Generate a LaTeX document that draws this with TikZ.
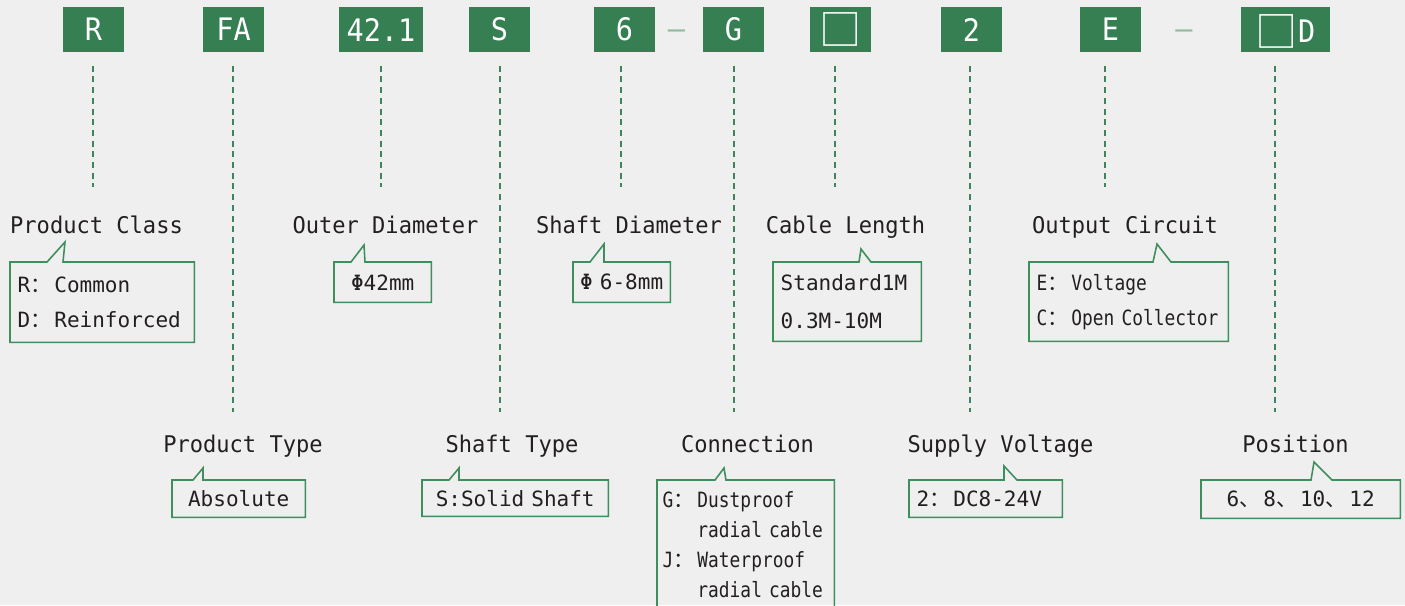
\documentclass[tikz,border=0pt]{standalone}
\usepackage{fontspec}
\usepackage{xcolor}

\newfontfamily\codefont[FakeStretch=0.92]{DejaVu Sans Mono}
\newfontfamily\labelfont[FakeStretch=0.96]{DejaVu Sans Mono}
\newfontfamily\specfont{DejaVu Sans Mono}
\newfontfamily\tightfont[FakeStretch=0.85]{DejaVu Sans Mono}
\newfontfamily\cjk{Noto Sans CJK SC}

\definecolor{codegreen}{HTML}{367F52}
\definecolor{dashgreen}{HTML}{8DBB9D}
\definecolor{leadgreen}{HTML}{3F855B}
\definecolor{taggreen}{HTML}{3E8E5E}
\definecolor{pagegray}{HTML}{EFEFEF}
\definecolor{ink}{HTML}{231F20}

\newcommand{\sqfont}{\fontsize{12pt}{13pt}\cjk}
\newcommand{\fcolon}{{\cjk ：}\kern0.03cm}
\newcommand{\dun}{{\cjk 、}\kern0.03cm}
\newcommand{\tagbox}[5]{%
  \draw[tagline] (#1.north west) -- ([xshift=#2cm]#1.north west) -- ([xshift=#3cm,yshift=#4cm]#1.north west) -- ([xshift=#5cm]#1.north west) -- (#1.north east) -- (#1.south east) -- (#1.south west) -- cycle;}

\tikzset{
  code/.style={fill=codegreen, text=white, inner sep=0pt, minimum width=0.61cm, minimum height=0.45cm, font=\fontsize{8.82pt}{10pt}\codefont},
  joiner/.style={text=dashgreen, inner sep=0pt, anchor=base, font=\fontsize{8.82pt}{10pt}\codefont},
  title/.style={text=ink, inner sep=0pt, anchor=base, font=\fontsize{6.54pt}{8pt}\labelfont},
  spec/.style={text=ink, anchor=north west, inner xsep=0.07cm, inner ysep=0pt, align=left, font=\fontsize{5.98pt}{9.96pt}\specfont},
  leader/.style={draw=leadgreen, line width=0.45pt, dash pattern=on 0.06cm off 0.047cm, shorten <=0.13cm},
  tagline/.style={draw=taggreen, line width=0.45pt},
}

\begin{document}
\begin{tikzpicture}
		\useasboundingbox (0,0) rectangle (14.05,-6.05);
		\clip (0,0) rectangle (14.05,-6.05);
		\fill[pagegray] (0,0) rectangle (14.05,-6.05);

		% model code
		\node[code] (R) at (0.935,-0.295) {R};
		\node[code] (FA) at (2.335,-0.295) {FA};
		\node[code, minimum width=0.84cm] (OD) at (3.81,-0.295) {42.1};
		\node[code] (S) at (4.995,-0.295) {S};
		\node[code] (SD) at (6.245,-0.295) {6};
		\node[joiner] (j1) at (6.765,-0.39) {–};
		\node[code] (G) at (7.335,-0.295) {G};
		\node[code] (CL) at (8.405,-0.295) {\sqfont □};
		\node[code] (V) at (9.715,-0.295) {2};
		\node[code] (E) at (11.105,-0.295) {E};
		\node[joiner] (j2) at (11.84,-0.39) {–};
		\node[code, minimum width=0.89cm, text height=0.25cm, text depth=0cm] (PS) at (12.855,-0.295) {{\sqfont\raisebox{-0.05cm}{□}}D};

		\coordinate (upper) at (0,-1.87);
		\coordinate (lower) at (0,-4.12);
		\coordinate (Rfoot) at ([xshift=-0.005cm]R.south);
		\coordinate (FAfoot) at ([xshift=-0.005cm]FA.south);
		\coordinate (Sfoot) at ([xshift=0.005cm]S.south);
		\coordinate (SDfoot) at ([xshift=-0.035cm]SD.south);
		\coordinate (Gfoot) at ([xshift=0.005cm]G.south);
		\coordinate (CLfoot) at ([xshift=-0.055cm]CL.south);
		\coordinate (Vfoot) at ([xshift=-0.015cm]V.south);
		\coordinate (Efoot) at ([xshift=-0.055cm]E.south);
		\coordinate (PSfoot) at ([xshift=-0.105cm]PS.south);

		\draw[leader] (Rfoot) -- (Rfoot |- upper);
		\draw[leader] (FAfoot) -- (FAfoot |- lower);
		\draw[leader] (OD.south) -- (OD.south |- upper);
		\draw[leader] (Sfoot) -- (Sfoot |- lower);
		\draw[leader] (SDfoot) -- (SDfoot |- upper);
		\draw[leader] (Gfoot) -- (Gfoot |- lower);
		\draw[leader] (CLfoot) -- (CLfoot |- upper);
		\draw[leader] (Vfoot) -- (Vfoot |- lower);
		\draw[leader] (Efoot) -- (Efoot |- upper);
		\draw[leader] (PSfoot) -- (PSfoot |- lower);

		% titles
		\node[title] (pct) at (0.965,-2.33) {Product Class};
		\node[title] (odt) at (3.855,-2.33) {Outer Diameter};
		\node[title] (sdt) at (6.29,-2.33) {Shaft Diameter};
		\node[title] (clt) at (8.455,-2.33) {Cable Length};
		\node[title] (oct) at (11.25,-2.33) {Output Circuit};
		\node[title] (ptt) at (2.43,-4.52) {Product Type};
		\node[title] (stt) at (5.12,-4.52) {Shaft Type};
		\node[title] (cnt) at (7.475,-4.52) {Connection};
		\node[title] (svt) at (10.005,-4.52) {Supply Voltage};
		\node[title] (pst) at (12.955,-4.52) {Position};

		% options
		\node[spec, text width=1.69cm, minimum height=0.79cm] (pcb) at (0.10,-2.62) {R\fcolon Common\\D\fcolon Reinforced};
		\node[spec, text width=0.82cm, minimum height=0.39cm, align=center] (odb) at (3.34,-2.62) {Φ42mm};
		\node[spec, inner xsep=0.03cm, text width=0.90cm, minimum height=0.39cm, align=center] (sdb) at (5.73,-2.62) {\mbox{Φ 6-8mm}};
		\node[spec, text width=1.33cm, minimum height=0.78cm, font=\fontsize{5.98pt}{10.81pt}\specfont] (clb) at (7.73,-2.62) {Standard1M\\0.3M-10M};
		\node[spec, text width=1.84cm, minimum height=0.78cm, font=\fontsize{5.98pt}{9.96pt}\tightfont] (ocb) at (10.29,-2.62) {E\fcolon Voltage\\\mbox{C\fcolon Open Collector}};
		\node[spec, text width=1.18cm, minimum height=0.36cm, align=center] (ptb) at (1.72,-4.80) {Absolute};
		\node[spec, text width=1.71cm, minimum height=0.35cm, align=center] (stb) at (4.22,-4.80) {\mbox{S:Solid Shaft}};
		\node[spec, inner xsep=0.05cm, text width=1.66cm, minimum height=1.27cm, font=\fontsize{5.98pt}{8.54pt}\tightfont] (cnb) at (6.57,-4.80) {G\fcolon Dustproof\\\mbox{\phantom{G\fcolon}radial cable}\\J\fcolon Waterproof\\\mbox{\phantom{J\fcolon}radial cable}};
		\node[spec, text width=1.38cm, minimum height=0.36cm] (svb) at (9.09,-4.80) {2\fcolon DC8-24V};
		\node[spec, text width=1.84cm, minimum height=0.37cm, align=center] (psb) at (12.01,-4.80) {6\dun 8\dun 10\dun 12};

		\tagbox{pcb}{0.37}{0.55}{0.20}{0.53}
		\tagbox{odb}{0.17}{0.30}{0.17}{0.31}
		\tagbox{sdb}{0.17}{0.31}{0.18}{0.31}
		\tagbox{clb}{0.86}{0.88}{0.13}{0.98}
		\tagbox{ocb}{1.24}{1.28}{0.18}{1.42}
		\tagbox{ptb}{0.21}{0.31}{0.12}{0.31}
		\tagbox{stb}{0.27}{0.37}{0.12}{0.37}
		\tagbox{cnb}{0.58}{0.67}{0.12}{0.69}
		\tagbox{svb}{0.95}{0.95}{0.14}{1.08}
		\tagbox{psb}{1.10}{1.13}{0.18}{1.31}
	\end{tikzpicture}
\end{document}
